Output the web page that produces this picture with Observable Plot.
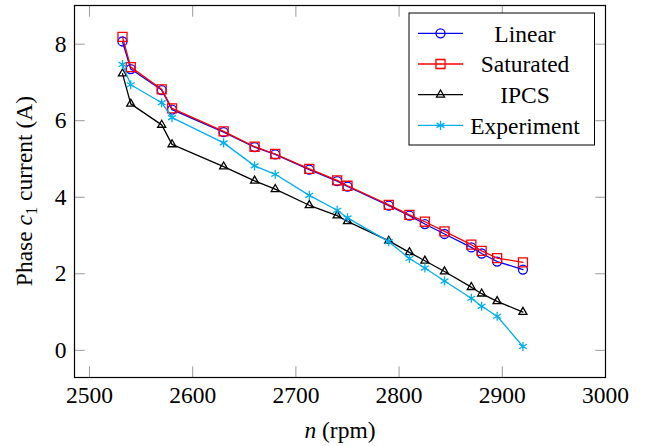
<!DOCTYPE html>
<html><head><meta charset="utf-8">
<script src="https://cdn.jsdelivr.net/npm/d3@7"></script>
<script src="https://cdn.jsdelivr.net/npm/@observablehq/plot@0.6"></script>
<style>body{margin:0;background:#fff}#chart{width:646px;height:446px}</style>
</head><body><div id="chart"></div>
<script>
// Speeds (rpm)
const speed = [2532, 2540, 2570, 2580, 2630, 2660, 2680, 2713, 2740, 2750, 2790, 2810, 2825, 2844, 2870, 2880, 2895, 2920];
// Phase c1 current (A)
const linear     = [8.07, 7.35, 6.80, 6.29, 5.70, 5.31, 5.12, 4.72, 4.42, 4.28, 3.78, 3.52, 3.30, 3.04, 2.69, 2.53, 2.32, 2.11];
const saturated  = [8.19, 7.40, 6.82, 6.32, 5.72, 5.32, 5.13, 4.74, 4.44, 4.30, 3.80, 3.54, 3.36, 3.11, 2.76, 2.60, 2.41, 2.30];
const ipcs       = [7.23, 6.44, 5.89, 5.38, 4.80, 4.43, 4.21, 3.79, 3.52, 3.37, 2.86, 2.56, 2.34, 2.06, 1.65, 1.48, 1.28, 1.00];
const experiment = [7.47, 6.94, 6.47, 6.08, 5.42, 4.82, 4.60, 4.05, 3.66, 3.46, 2.84, 2.40, 2.15, 1.81, 1.36, 1.15, 0.89, 0.10];

const seriesNames = ["Linear", "Saturated", "IPCS", "Experiment"];
const seriesValues = [linear, saturated, ipcs, experiment];
const seriesColors = ["#0000ff", "#ff0000", "#000000", "#00aeef"];
const seriesSymbols = ["circle", "square", "triangle", "asterisk"];
const symbolRadius = {circle: 4.5, square: 5.1, triangle: 3.0, asterisk: 4.3};

const xTicks = [2500, 2600, 2700, 2800, 2900, 3000];
const yTicks = [0, 2, 4, 6, 8];

const rows = seriesNames.flatMap((name, i) =>
  speed.map((n, j) => ({series: name, n, current: seriesValues[i][j]})));

const FONT = "Liberation Serif, DejaVu Serif, Times New Roman, Times, serif";
const FS = 23.5;
const TICK = 10.7;

const marks = [];
const tickOpts = {stroke: "#9a9a9a", tickSize: TICK, tickFormat: () => "", label: null};
marks.push(Plot.axisX(xTicks, {anchor: "bottom", ...tickOpts, dy: -TICK}));
marks.push(Plot.axisX(xTicks, {anchor: "top", ...tickOpts, dy: TICK}));
marks.push(Plot.axisY(yTicks, {anchor: "left", ...tickOpts, dx: TICK}));
marks.push(Plot.axisY(yTicks, {anchor: "right", ...tickOpts, dx: -TICK}));
marks.push(Plot.axisX(xTicks, {anchor: "bottom", tickSize: 0, tickPadding: 9, label: null, tickFormat: d => String(d), fontFamily: FONT}));
marks.push(Plot.axisY(yTicks, {anchor: "left", tickSize: 0, tickPadding: 8, label: null, tickFormat: d => String(d), fontFamily: FONT}));

seriesNames.forEach((name, i) => {
  const d = rows.filter(r => r.series === name);
  marks.push(Plot.line(d, {x: "n", y: "current", stroke: seriesColors[i], strokeWidth: 1.3}));
  marks.push(Plot.dot(d, {x: "n", y: "current", stroke: seriesColors[i], fill: "none",
    symbol: seriesSymbols[i], r: symbolRadius[seriesSymbols[i]], strokeWidth: 1.3}));
});
marks.push(Plot.frame({stroke: "black", strokeWidth: 1.2}));

const plot = Plot.plot({
  width: 646, height: 446,
  marginLeft: 74, marginRight: 41, marginTop: 5, marginBottom: 69,
  style: {fontFamily: FONT, fontSize: FS + "px", background: "white", color: "black", overflow: "visible"},
  x: {domain: [2485.5, 3000]},
  y: {domain: [-0.71, 9.01]},
  marks
});
document.getElementById("chart").appendChild(plot);

const svg = d3.select(plot);
svg.selectAll("text").style("font-family", FONT);
// Axis titles
const yl = svg.append("text")
  .attr("transform", "translate(32,191) rotate(-90)")
  .attr("text-anchor", "middle")
  .style("font-family", FONT).attr("font-size", FS).attr("fill", "black");
yl.append("tspan").text("Phase ");
yl.append("tspan").attr("font-style", "italic").text("c");
yl.append("tspan").attr("font-size", FS * 0.7).attr("dy", 5).text("1");
yl.append("tspan").attr("dy", -5).text(" current (A)");

const xl = svg.append("text")
  .attr("x", 340).attr("y", 438)
  .attr("text-anchor", "middle")
  .style("font-family", FONT).attr("font-size", FS).attr("fill", "black");
xl.append("tspan").attr("font-style", "italic").text("n");
xl.append("tspan").text(" (rpm)");

// Legend
const lg = svg.append("g");
lg.append("rect").attr("x", 409).attr("y", 13).attr("width", 185.5).attr("height", 132)
  .attr("fill", "white").attr("stroke", "black").attr("stroke-width", 1);
seriesNames.forEach((name, i) => {
  const cy = 33.3 + i * 30.7;
  lg.append("line").attr("x1", 418).attr("x2", 463).attr("y1", cy).attr("y2", cy)
    .attr("stroke", seriesColors[i]).attr("stroke-width", 1.3);
  const sym = {circle: d3.symbolCircle, square: d3.symbolSquare, triangle: d3.symbolTriangle, asterisk: d3.symbolAsterisk}[seriesSymbols[i]];
  const r = symbolRadius[seriesSymbols[i]];
  lg.append("path").attr("transform", `translate(440.5,${cy})`)
    .attr("d", d3.symbol(sym, Math.PI * r * r)())
    .attr("fill", "none").attr("stroke", seriesColors[i]).attr("stroke-width", 1.3);
  lg.append("text").attr("x", 525).attr("y", cy + 8.4).attr("text-anchor", "middle")
    .style("font-family", FONT).attr("font-size", FS).attr("fill", "black").text(name);
});
</script>
</body></html>
